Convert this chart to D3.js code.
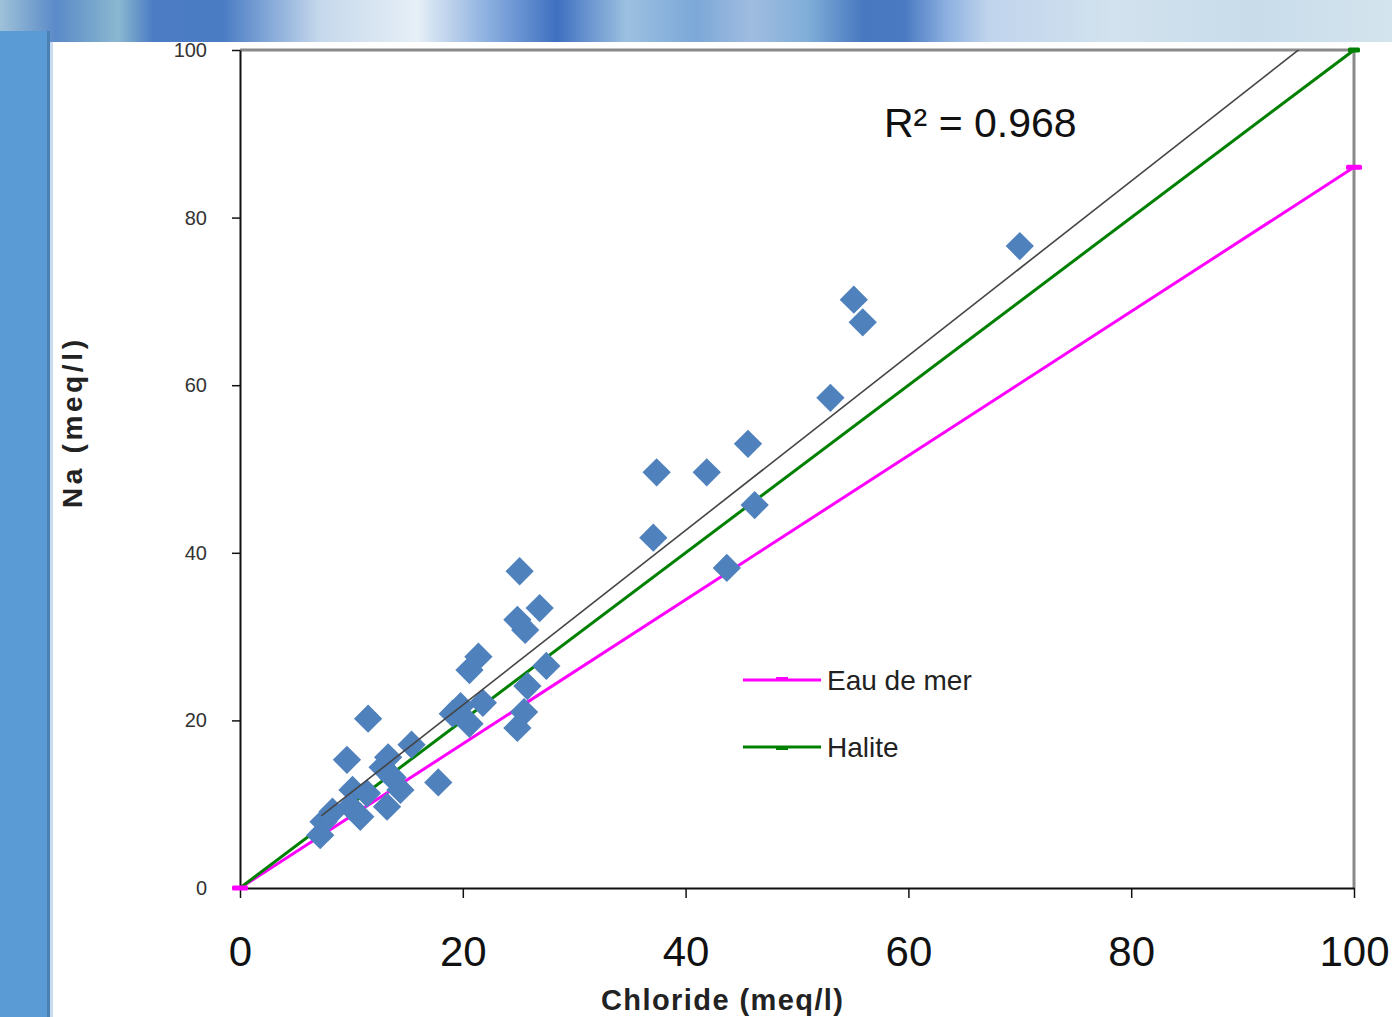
<!DOCTYPE html>
<html>
<head>
<meta charset="utf-8">
<script src="https://cdn.jsdelivr.net/npm/d3@7"></script>
<style>
  html, body { margin: 0; padding: 0; background: #fff; }
  svg { display: block; font-family: "Liberation Sans", Arial, sans-serif; }
</style>
</head>
<body>
<div id="chart"></div>
<script>
(function () {
  // donnees
  const chloride = [70.0, 55.1, 55.9, 53.0, 45.6, 37.4, 41.9, 46.2, 37.1, 43.7,
    25.1, 26.9, 24.9, 25.6, 27.5, 21.4, 20.6, 25.8, 21.8, 25.5,
    24.9, 19.8, 19.1, 20.6, 11.5, 15.4, 9.6, 13.3, 17.8, 12.8,
    13.7, 14.4, 13.2, 11.4, 10.1, 9.9, 10.8, 8.3, 7.5, 7.2]
  const sodium = [76.6, 70.2, 67.5, 58.5, 53.0, 49.6, 49.6, 45.7, 41.8, 38.2,
    37.8, 33.4, 32.0, 30.8, 26.5, 27.6, 26.0, 24.1, 22.1, 21.0,
    19.1, 21.7, 20.8, 19.6, 20.2, 17.1, 15.3, 15.6, 12.6, 14.4,
    13.2, 11.7, 9.7, 11.3, 11.7, 9.7, 8.5, 9.1, 7.9, 6.3]

  const seawaterX = [0, 100]
  const seawaterY = [0, 86]
  const haliteX = [0, 100]
  const haliteY = [0, 100]
  const trendX = [7.3, 100]
  const trendSlope = 1.042
  const trendIntercept = 1.0

  const xTicks = [0, 20, 40, 60, 80, 100]
  const yTicks = [0, 20, 40, 60, 80, 100]
  const legendNames = ['Eau de mer', 'Halite']

  const WIDTH = 1392
  const HEIGHT = 1017

  const svg = d3.select('#chart').append('svg')
    .attr('width', WIDTH)
    .attr('height', HEIGHT)

  // bandeau du haut (degrade flou)
  const defs = svg.append('defs')
  const grad = defs.append('linearGradient').attr('id', 'banner')
  const bannerStops = [
    [0, '#9fc2d9'], [0.04, '#5a8ac8'], [0.085, '#8ab8d0'], [0.11, '#4b7cc4'],
    [0.16, '#4a7cc4'], [0.19, '#7ea4d6'], [0.23, '#c6d8ec'], [0.3, '#e6eff6'],
    [0.35, '#8cb0e0'], [0.4, '#3f70c0'], [0.45, '#9cc0e0'], [0.5, '#7ca8d8'],
    [0.54, '#a0bce0'], [0.58, '#80aed8'], [0.62, '#4878c0'], [0.65, '#4a7ac2'],
    [0.68, '#8cb0e0'], [0.71, '#c0d4ec'], [0.8, '#d2e2ee'], [0.9, '#c8dcea'],
    [1, '#d4e4ee']
  ]
  grad.selectAll('stop').data(bannerStops).enter().append('stop')
    .attr('offset', d => d[0])
    .attr('stop-color', d => d[1])

  defs.append('clipPath').attr('id', 'plotclip')
    .append('rect').attr('x', 240).attr('y', 50).attr('width', 1114).attr('height', 838)

  svg.append('rect').attr('x', 0).attr('y', 0).attr('width', WIDTH).attr('height', 42)
    .style('fill', 'url(#banner)')
  svg.append('rect').attr('x', 0).attr('y', 31).attr('width', 50).attr('height', HEIGHT - 31)
    .style('fill', '#5b9bd5')
  svg.append('rect').attr('x', 47).attr('y', 31).attr('width', 3).attr('height', HEIGHT - 31)
    .style('fill', '#4a80b4')
  svg.append('rect').attr('x', 50).attr('y', 42).attr('width', 3).attr('height', HEIGHT - 42)
    .style('fill', '#c9dcef')

  const x = d3.scaleLinear().domain([0, 100]).range([240, 1354])
  const y = d3.scaleLinear().domain([0, 100]).range([888, 50])

  // cadre haut / droite
  svg.append('path')
    .attr('d', `M ${x(0)} ${y(100)} H ${x(100)} V ${y(0)}`)
    .style('fill', 'none')
    .style('stroke', '#8a8a8a')
    .style('stroke-width', 3)

  // axes
  const yAxis = svg.append('g')
    .attr('transform', `translate(${x(0)}, 0)`)
    .call(d3.axisLeft(y).tickValues(yTicks).tickSize(8).tickSizeOuter(0).tickPadding(25))
  yAxis.select('.domain').style('stroke', '#111').style('stroke-width', 2)
  yAxis.selectAll('.tick line').style('stroke', '#111').style('stroke-width', 1.5)
  yAxis.selectAll('.tick text')
    .style('font-size', '20px')
    .style('fill', '#333')
    .style('font-family', '"Liberation Sans", Arial, sans-serif')

  const xAxis = svg.append('g')
    .attr('transform', `translate(0, ${y(0)})`)
    .call(d3.axisBottom(x).tickValues(xTicks).tickSize(10).tickSizeOuter(0).tickPadding(38))
  xAxis.select('.domain').style('stroke', '#111').style('stroke-width', 2)
  xAxis.selectAll('.tick line').style('stroke', '#111').style('stroke-width', 1.5)
  xAxis.selectAll('.tick text')
    .style('font-size', '42px')
    .style('fill', '#111')
    .style('font-family', '"Liberation Sans", Arial, sans-serif')

  // titres des axes
  svg.append('text')
    .attr('x', 722)
    .attr('y', 1010)
    .attr('text-anchor', 'middle')
    .attr('textLength', 242)
    .style('font-size', '29px')
    .style('font-weight', 'bold')
    .style('fill', '#222')
    .text('Chloride (meq/l)')

  svg.append('text')
    .attr('transform', 'translate(82, 424) rotate(-90)')
    .attr('text-anchor', 'middle')
    .attr('textLength', 168)
    .style('font-size', '28px')
    .style('font-weight', 'bold')
    .style('fill', '#222')
    .text('Na (meq/l)')

  const plot = svg.append('g').attr('clip-path', 'url(#plotclip)')

  const line = d3.line().x(d => x(d[0])).y(d => y(d[1]))

  // marqueurs tiret aux extremites (hors clip)
  const dash = (px, py, color, w, h) => {
    svg.append('rect')
      .attr('x', x(px) - w / 2).attr('y', y(py) - h / 2)
      .attr('width', w).attr('height', h)
      .attr('rx', 1.5)
      .style('fill', color)
  }

  // eau de mer
  plot.append('path')
    .attr('d', line(d3.zip(seawaterX, seawaterY)))
    .style('fill', 'none').style('stroke', '#ff00ff').style('stroke-width', 3)
  d3.zip(seawaterX, seawaterY).forEach(p => dash(p[0], p[1], '#ff00ff', 16, 5))

  // halite
  plot.append('path')
    .attr('d', line(d3.zip(haliteX, haliteY)))
    .style('fill', 'none').style('stroke', '#008000').style('stroke-width', 3)
  dash(100, 100, '#008000', 12, 5)

  // points
  const points = d3.zip(chloride, sodium)
  plot.selectAll('.pt')
    .data(points)
    .enter()
    .append('path')
    .attr('class', 'pt')
    .attr('d', d3.symbol(d3.symbolSquare, 400))
    .attr('transform', d => `translate(${x(d[0])}, ${y(d[1])}) rotate(45)`)
    .style('fill', '#4f81bd')

  // droite de tendance
  plot.append('path')
    .attr('d', line(trendX.map(v => [v, trendSlope * v + trendIntercept])))
    .style('fill', 'none').style('stroke', '#444').style('stroke-width', 1.6)

  svg.append('text')
    .attr('x', 884)
    .attr('y', 137)
    .style('font-size', '41px')
    .style('fill', '#111')
    .text('R² = 0.968')

  // legende
  const legendColors = ['#ff00ff', '#008000']
  const legend = svg.selectAll('.legend')
    .data(legendNames)
    .enter()
    .append('g')
    .attr('class', 'legend')
    .attr('transform', (d, i) => `translate(743, ${680 + i * 67})`)
  legend.append('line')
    .attr('x1', 0).attr('x2', 78).attr('y1', 0).attr('y2', 0)
    .style('stroke', (d, i) => legendColors[i]).style('stroke-width', 3)
  legend.append('rect')
    .attr('x', 33).attr('y', (d, i) => i === 0 ? -3 : -1).attr('width', 12).attr('height', 4)
    .style('fill', (d, i) => legendColors[i])
  legend.append('text')
    .attr('x', 84)
    .attr('y', 10)
    .style('font-size', '28px')
    .style('fill', '#222')
    .text(d => d)
})()
</script>
</body>
</html>
